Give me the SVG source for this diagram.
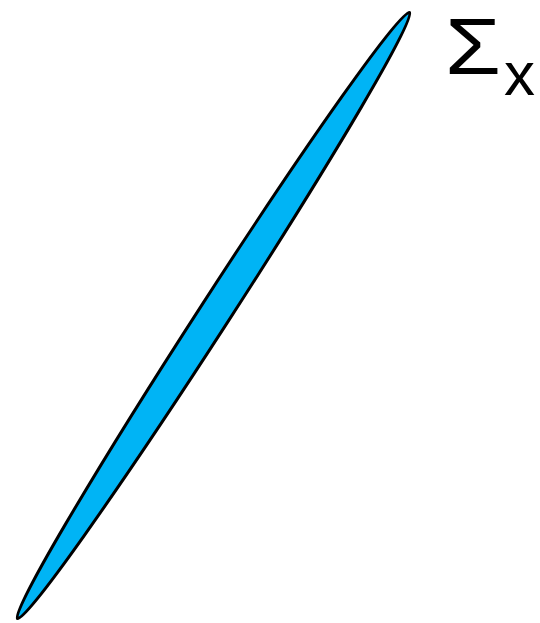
<svg xmlns="http://www.w3.org/2000/svg" width="540" height="623" viewBox="0 0 540 623">
<style>
.lbl{font-family:"Liberation Sans",Arial,sans-serif;fill:#000}
</style>
<rect width="540" height="623" fill="#fff"/>
<g id="ellipse">
<ellipse cx="213.5" cy="315.5" rx="361" ry="15.5" transform="rotate(-57.1 213.5 315.5)" fill="#00B4F5" stroke="#000" stroke-width="3"/>
</g>
<g id="label">
<text class="lbl" x="445" y="74" font-size="79" textLength="56" lengthAdjust="spacingAndGlyphs">Σ</text>
<text class="lbl" x="504" y="95" font-size="62">x</text>
</g>
</svg>
